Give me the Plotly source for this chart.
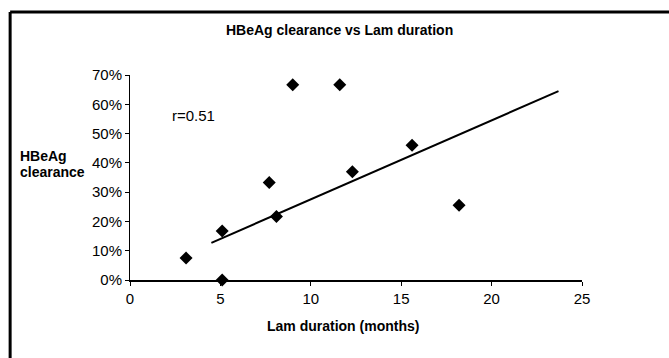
import plotly.graph_objects as go

# Data
lam_months = [3.1, 5.1, 5.1, 7.7, 8.1, 9.0, 11.6, 12.3, 15.6, 18.2]
hbeag_clearance_pct = [7.5, 16.7, 0.0, 33.3, 21.7, 66.7, 66.7, 37.0, 46.0, 25.5]
trend_x = [4.5, 23.7]
trend_y = [12.7, 64.5]
x_ticks = [0, 5, 10, 15, 20, 25]
y_ticks = [0, 10, 20, 30, 40, 50, 60, 70]
y_tick_labels = ["0%", "10%", "20%", "30%", "40%", "50%", "60%", "70%"]

FONT = "Liberation Sans, Arial, sans-serif"

fig = go.Figure()
fig.add_trace(go.Scatter(
    x=lam_months, y=hbeag_clearance_pct, mode="markers",
    marker=dict(symbol="diamond", size=10, color="black"),
    showlegend=False, cliponaxis=False,
))
fig.add_trace(go.Scatter(
    x=trend_x, y=trend_y, mode="lines",
    line=dict(color="black", width=2),
    showlegend=False,
))

fig.update_layout(
    width=669, height=358, autosize=False,
    margin=dict(l=130, r=86.5, t=75, b=78),
    paper_bgcolor="white", plot_bgcolor="white",
    font=dict(family=FONT, size=15, color="black"),
    showlegend=False,
    xaxis=dict(
        range=[0, 25], tickvals=x_ticks, ticks="outside", ticklen=4,
        tickcolor="black", showline=True, linecolor="black", linewidth=2,
        showgrid=False, zeroline=False, tickfont=dict(size=15),
        fixedrange=True,
    ),
    yaxis=dict(
        range=[0, 70], tickvals=y_ticks, ticktext=y_tick_labels, ticks="outside",
        ticklen=4, tickcolor="black", showline=True, linecolor="black",
        linewidth=1, showgrid=False, zeroline=False, tickfont=dict(size=15),
        fixedrange=True,
    ),
)

# convert pixel positions to paper coords relative to the plot area
L, R, T, B = 130, 582.5, 75, 280
def px_to_paper(px, py):
    return (px - L) / (R - L), (B - py) / (B - T)

texts = [
    ("<b>HBeAg clearance vs Lam duration</b>", 340, 30, "center", 14),
    ("<b>Lam duration (months)</b>", 343, 326, "center", 14),
    ("<b>HBeAg</b>", 18, 156, "left", 14),
    ("<b>clearance</b>", 18, 171.5, "left", 14),
    ("r=0.51", 170, 115, "left", 15),
]
annotations = []
for text, px, py, xa, size in texts:
    ax, ay = px_to_paper(px, py)
    annotations.append(dict(text=text, x=ax, y=ay, xref="paper", yref="paper",
                            xanchor=xa, yanchor="middle", showarrow=False,
                            font=dict(size=size)))
fig.update_layout(annotations=annotations)

# outer frame (left and top edges visible)
x0, y0 = px_to_paper(10, 12)
x1, y1 = px_to_paper(680, 370)
fig.add_shape(type="line", xref="paper", yref="paper", x0=x0, y0=y0, x1=x1, y1=y0,
              line=dict(color="black", width=3))
fig.add_shape(type="line", xref="paper", yref="paper", x0=x0, y0=y0, x1=x0, y1=y1,
              line=dict(color="black", width=3))

fig.write_html("out.html",
               config={"displayModeBar": False, "staticPlot": True},
               post_script="document.body.style.margin='0';document.body.style.padding='0';")
